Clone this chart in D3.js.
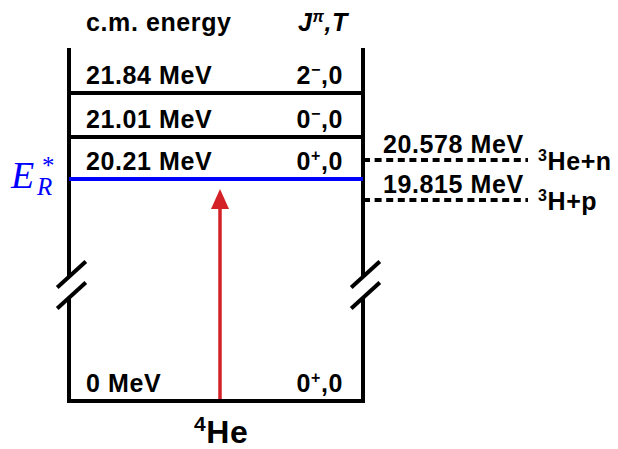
<!DOCTYPE html>
<html>
  <head>
    <meta charset="utf-8">
    <title>4He levels</title>
    <script src="https://cdn.jsdelivr.net/npm/d3@7"></script>
    <style>
body { margin: 0; background: white; }
.lbl {
 font-family: 'Liberation Sans', Arial, sans-serif;
 font-weight: bold;
 font-size: 25px;
 letter-spacing: 0.6px;
 fill: black;
}
    </style>
  </head>
  <body>
    <script>
// levels of 4He (c.m. energy in MeV)
var levelEnergy = [21.84, 21.01, 20.21, 0];
var levelText = ["21.84 MeV", "21.01 MeV", "20.21 MeV", "0 MeV"];
var levelSpin = ["2", "0", "0", "0"];
var levelParity = ["\u2212", "\u2212", "+", "+"];
var levelIsospin = ["0", "0", "0", "0"];
var levelColor = ["black", "black", "blue", "black"];

// particle thresholds
var thrEnergy = [20.578, 19.815];
var thrText = ["20.578 MeV", "19.815 MeV"];
var thrMass = ["3", "3"];
var thrChannel = ["He+n", "H+p"];

var resonance = 20.21; // E_R*

var w = 618, h = 449;
var svg = d3.select("body").append("svg")
  .attr("width", w)
  .attr("height", h);

var xL = 69, xR = 363; // box sides
var brkTop = 277, brkBot = 298; // axis break

// broken energy axis
var y = d3.scaleLinear()
  .domain([0, 17.9, 18.35, 22.7])
  .range([401, brkBot, brkTop, 48]);

// box sides
svg.append("path")
  .attr("d", "M" + xL + "," + y(22.7) + "V" + brkTop + "M" + xR + "," + y(22.7) + "V" + brkTop)
  .attr("stroke", "black").attr("stroke-width", 4).attr("fill", "none");
svg.append("path")
  .attr("d", "M" + xL + "," + brkBot + "V" + y(0) + "H" + xR + "V" + brkBot)
  .attr("stroke", "black").attr("stroke-width", 4).attr("fill", "none");

// break marks
[xL, xR].forEach(function(x){
  [brkTop - 2.5, brkBot - 2.5].forEach(function(yy){
    svg.append("line")
      .attr("x1", x + 2.5 - 14.3).attr("y1", yy + 13)
      .attr("x2", x + 2.5 + 14.3).attr("y2", yy - 13)
      .attr("stroke", "black").attr("stroke-width", 4);
  });
});

// levels (ground state is the bottom of the box)
svg.selectAll(".lvl").data(levelEnergy.slice(0, 3)).enter().append("line")
  .attr("class", "lvl")
  .attr("x1", xL).attr("x2", xR)
  .attr("y1", function(d){ return Math.round(y(d)); })
  .attr("y2", function(d){ return Math.round(y(d)); })
  .attr("stroke", function(d, i){ return levelColor[i]; })
  .attr("stroke-width", 4);

// level labels
svg.selectAll(".elbl").data(levelEnergy).enter().append("text")
  .attr("class", "lbl elbl")
  .attr("x", xL + 17)
  .attr("y", function(d){ return y(d) - 9; })
  .text(function(d, i){ return levelText[i]; });

levelEnergy.forEach(function(d, i){
  var t = svg.append("text")
    .attr("class", "lbl")
    .attr("x", xR - 20)
    .attr("y", y(d) - 9)
    .attr("text-anchor", "end");
  t.append("tspan").text(levelSpin[i]);
  t.append("tspan").style("font-size", "16px").attr("dy", -9).text(levelParity[i]);
  t.append("tspan").attr("dy", 9).text("," + levelIsospin[i]);
});

// header
svg.append("text").attr("class", "lbl")
  .attr("x", 86).attr("y", 31)
  .text("c.m. energy");
var hd = svg.append("text").attr("class", "lbl")
  .attr("x", 348).attr("y", 31)
  .attr("text-anchor", "end")
  .attr("font-style", "italic");
hd.append("tspan").text("J");
hd.append("tspan").style("font-size", "16px").attr("dy", -9).text("\u03c0");
hd.append("tspan").attr("dy", 9).text(",T");

// thresholds
svg.selectAll(".thr").data(thrEnergy).enter().append("line")
  .attr("class", "thr")
  .attr("x1", xR).attr("x2", 528)
  .attr("y1", function(d){ return Math.round(y(d)); })
  .attr("y2", function(d){ return Math.round(y(d)); })
  .attr("stroke", "black")
  .attr("stroke-width", 4)
  .attr("stroke-dasharray", "7,4.6");

thrEnergy.forEach(function(d, i){
  svg.append("text").attr("class", "lbl")
    .attr("x", 383).attr("y", y(d) - 7)
    .text(thrText[i]);
  var c = svg.append("text").attr("class", "lbl")
    .attr("x", 538).attr("y", y(d) + 10);
  c.append("tspan").style("font-size", "16px").attr("dy", -9).text(thrMass[i]);
  c.append("tspan").attr("dy", 9).text(thrChannel[i]);
});

// E_R^*
var serif = "'Liberation Serif', 'Times New Roman', serif";
var yr = y(resonance);
svg.append("text")
  .attr("x", 11).attr("y", yr + 9)
  .attr("fill", "blue")
  .attr("font-family", serif)
  .attr("font-style", "italic")
  .attr("font-size", "38px")
  .text("E");
svg.append("text")
  .attr("x", 42).attr("y", yr - 5)
  .attr("fill", "blue")
  .attr("font-family", serif)
  .attr("font-size", "25px")
  .text("*");
svg.append("text")
  .attr("x", 37).attr("y", yr + 16)
  .attr("fill", "blue")
  .attr("font-family", serif)
  .attr("font-style", "italic")
  .attr("font-size", "25px")
  .text("R");

// excitation arrow
var ax = 220;
var tip = yr + 10;
svg.append("line")
  .attr("x1", ax).attr("x2", ax)
  .attr("y1", y(0) - 2).attr("y2", tip + 15)
  .attr("stroke", "#d42027").attr("stroke-width", 3.5);
svg.append("path")
  .attr("d", "M" + ax + "," + tip + "L" + (ax + 9) + "," + (tip + 20) + "L" + (ax - 9) + "," + (tip + 20) + "Z")
  .attr("fill", "#d42027");

// nucleus
var nuc = svg.append("text").attr("class", "lbl")
  .attr("x", 194).attr("y", 443)
  .style("font-size", "32px");
nuc.append("tspan").style("font-size", "21px").attr("dy", -12).text("4");
nuc.append("tspan").attr("dy", 12).text("He");
    </script>
  </body>
</html>
